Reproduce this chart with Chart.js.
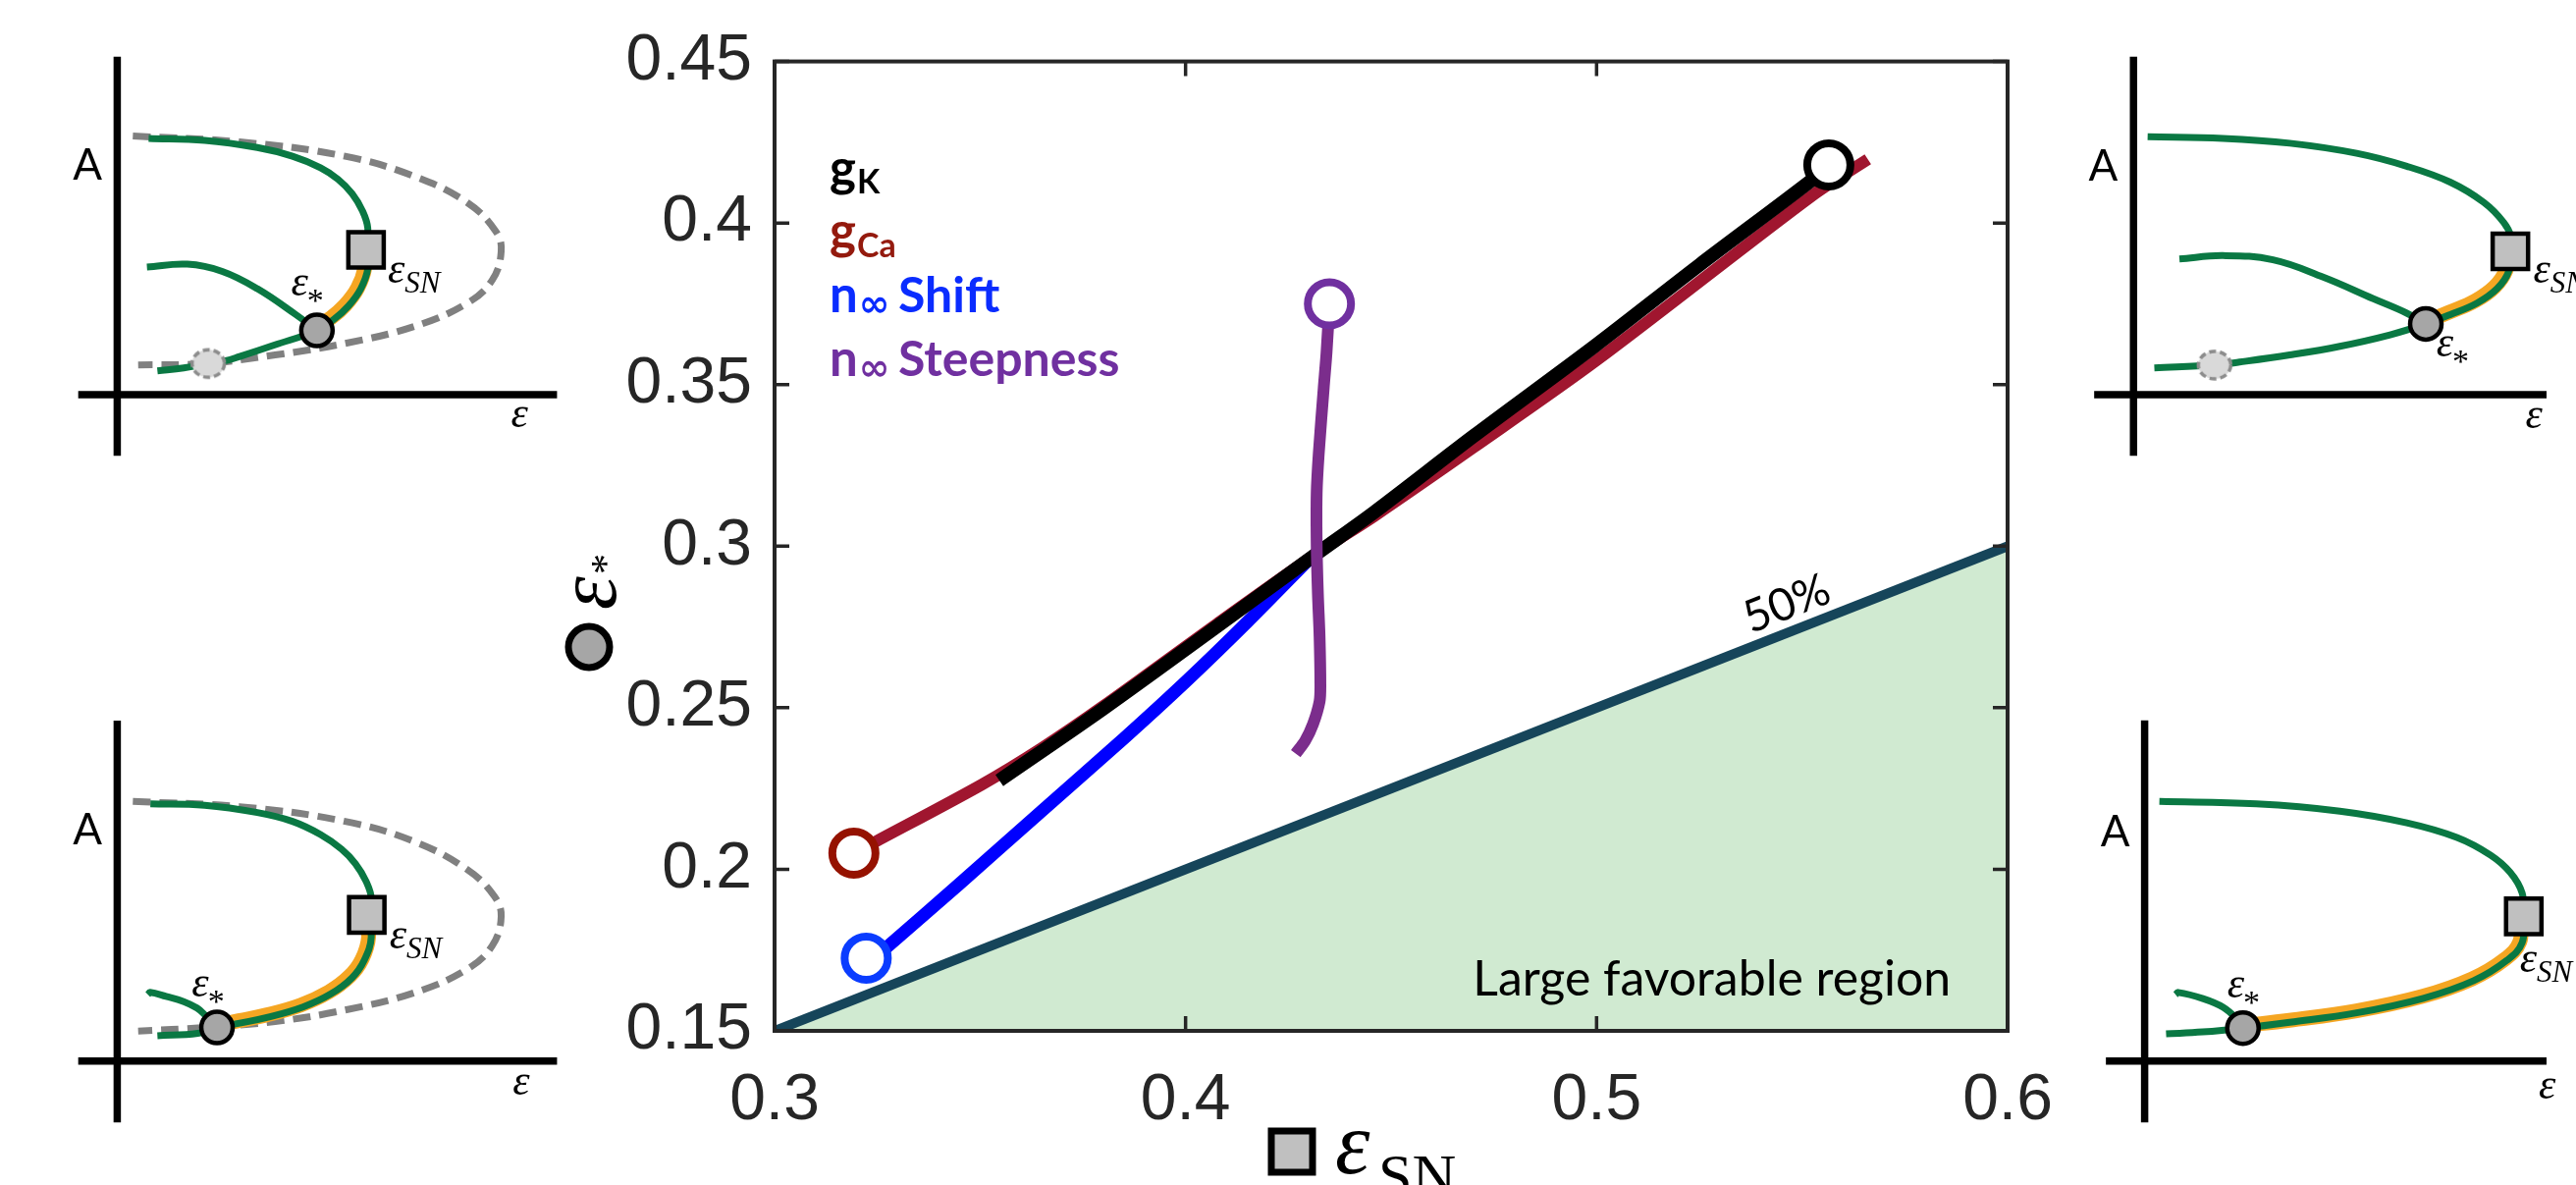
<!DOCTYPE html>
<html>
<head>
<meta charset="utf-8">
<title>epsilon star vs epsilon SN</title>
<script src="https://cdn.jsdelivr.net/npm/chart.js@4.4.1/dist/chart.umd.min.js"></script>
<style>
  html, body { margin:0; padding:0; background:#ffffff; }
  #stage { position:relative; width:2624px; height:1207px; overflow:hidden; background:#fff; }
  #stage canvas { position:absolute; }
</style>
</head>
<body>
<div id="stage">
  <canvas id="mainChart" width="2624" height="1207" style="left:0;top:0;width:2624px;height:1207px"></canvas>
  <canvas id="panelTL" width="620" height="520" style="left:0;top:0;width:620px;height:520px"></canvas>
  <canvas id="panelBL" width="620" height="527" style="left:0;top:680px;width:620px;height:527px"></canvas>
  <canvas id="panelTR" width="594" height="520" style="left:2030px;top:0;width:594px;height:520px"></canvas>
  <canvas id="panelBR" width="594" height="527" style="left:2030px;top:680px;width:594px;height:527px"></canvas>
</div>
<script>
// ================= MAIN CHART DATA =================
const xTickValues = [0.3, 0.4, 0.5, 0.6];
const xTickLabels = ['0.3', '0.4', '0.5', '0.6'];
const yTickValues = [0.15, 0.2, 0.25, 0.3, 0.35, 0.4, 0.45];
const yTickLabels = ['0.15', '0.2', '0.25', '0.3', '0.35', '0.4', '0.45'];

const gK_x = [0.3547, 0.38, 0.4077, 0.4316, 0.4459, 0.47, 0.4992, 0.525, 0.5525, 0.5565];
const gK_y = [0.2275, 0.2497, 0.2752, 0.2974, 0.3105, 0.3340, 0.3616, 0.3870, 0.4134, 0.4180];
const gK_marker = [0.5565, 0.4180];

const gCa_x = [0.3193, 0.3245, 0.3504, 0.365, 0.38, 0.4077, 0.4316, 0.4459, 0.47, 0.50, 0.5525, 0.566];
const gCa_y = [0.205, 0.2085, 0.2262, 0.2375, 0.2505, 0.2760, 0.2975, 0.3093, 0.3305, 0.3575, 0.4085, 0.4197];
const gCa_marker = [0.3193, 0.205];

const shift_x = [0.3223, 0.3277, 0.345, 0.365, 0.385, 0.400, 0.415, 0.4304];
const shift_y = [0.1703, 0.1763, 0.1955, 0.2180, 0.2405, 0.2580, 0.2765, 0.2964];
const shift_marker = [0.3223, 0.1725];

const steep_x = [0.4350, 0.4343, 0.4336, 0.4324, 0.4319, 0.4319, 0.4322, 0.4326, 0.4328, 0.4326, 0.4310, 0.4291, 0.4268];
const steep_y = [0.3750, 0.3600, 0.3488, 0.3286, 0.3165, 0.3000, 0.2850, 0.2721, 0.2570, 0.2519, 0.2449, 0.2398, 0.2358];
const steep_marker = [0.4350, 0.3750];

const half_x = [0.3, 0.6];
const half_y = [0.15, 0.30];

const legendNames = ['g', 'g', 'n', 'n'];
const legendSubs = ['K', 'Ca', '\u221E', '\u221E'];
const legendTails = ['', '', 'Shift', 'Steepness'];
const halfLabel = '50%';
const halfLabelAt = [0.5463, 0.2821];
const regionLabel = 'Large favorable region';
const regionLabelAt = [0.5862, 0.1609];

// ================= SCHEMATIC PANEL DATA =================
// Top-left panel
const tlAxisH_x = [-0.44, 4.96], tlAxisH_y = [0, 0];
const tlAxisV_x = [0, 0], tlAxisV_y = [3.89, -0.705];
const tlDash_x = [0.176, 1.38, 2.57, 3.36, 3.95, 4.27, 4.33, 4.23, 3.95, 3.36, 2.57, 1.78, 0.987, 0.236];
const tlDash_y = [2.978, 2.91, 2.745, 2.51, 2.21, 1.88, 1.65, 1.32, 1.055, 0.789, 0.59, 0.457, 0.358, 0.341];
const tlUpper_x = [0.354, 0.987, 1.58, 1.976, 2.292, 2.49, 2.648, 2.766, 2.826, 2.806];
const tlUpper_y = [2.951, 2.928, 2.845, 2.746, 2.613, 2.48, 2.315, 2.115, 1.916, 1.668];
const tlLower_x = [2.806, 2.826, 2.747, 2.608, 2.45, 2.252, 1.778, 1.382, 1.224, 1.027, 0.75, 0.453];
const tlLower_y = [1.668, 1.452, 1.22, 1.021, 0.872, 0.739, 0.573, 0.44, 0.391, 0.358, 0.308, 0.275];
const tlMiddle_x = [0.335, 0.79, 1.185, 1.58, 2.015, 2.252];
const tlMiddle_y = [1.469, 1.502, 1.419, 1.22, 0.921, 0.739];
const tlOrange_x = [2.78, 2.79, 2.71, 2.57, 2.41, 2.22];
const tlOrange_y = [1.62, 1.45, 1.225, 1.03, 0.885, 0.765];
const tlSN = [2.806, 1.668], tlStar = [2.252, 0.739], tlGhost = [1.027, 0.358];

// Bottom-left panel
const blAxisH_x = [-0.44, 4.96], blAxisH_y = [0, 0];
const blAxisV_x = [0, 0], blAxisV_y = [3.915, -0.705];
const blDash_x = [0.176, 1.38, 2.57, 3.36, 3.95, 4.25, 4.33, 4.23, 3.95, 3.36, 2.57, 1.78, 0.987, 0.236];
const blDash_y = [2.985, 2.925, 2.756, 2.52, 2.20, 1.90, 1.665, 1.328, 1.059, 0.79, 0.588, 0.455, 0.387, 0.346];
const blUpper_x = [0.374, 0.987, 1.58, 1.976, 2.292, 2.529, 2.687, 2.806, 2.865, 2.814];
const blUpper_y = [2.958, 2.941, 2.857, 2.756, 2.605, 2.437, 2.269, 2.067, 1.866, 1.681];
const blLower_x = [2.814, 2.865, 2.786, 2.648, 2.41, 2.094, 1.699, 1.382, 1.125, 0.908, 0.453];
const blLower_y = [1.681, 1.429, 1.16, 0.958, 0.773, 0.622, 0.504, 0.437, 0.387, 0.319, 0.293];
const blMiddle_x = [0.345, 0.37, 0.55, 0.75, 0.90, 0.99, 1.125];
const blMiddle_y = [0.765, 0.79, 0.745, 0.685, 0.61, 0.53, 0.387];
const blOrange_x = [2.79, 2.835, 2.76, 2.62, 2.385, 2.07, 1.68, 1.37, 1.14];
const blOrange_y = [1.63, 1.43, 1.17, 0.975, 0.795, 0.645, 0.53, 0.465, 0.415];
const blSN = [2.814, 1.681], blStar = [1.125, 0.387];

// Top-right panel
const trAxisH_x = [-0.446, 4.8], trAxisH_y = [0, 0];
const trAxisV_x = [0, 0], trAxisV_y = [3.89, -0.705];
const trUpper_x = [0.16, 1.013, 1.77, 2.528, 3.096, 3.588, 3.967, 4.195, 4.278, 4.27];
const trUpper_y = [2.971, 2.951, 2.895, 2.779, 2.63, 2.447, 2.215, 1.983, 1.817, 1.651];
const trLower_x = [4.27, 4.251, 4.119, 3.892, 3.588, 3.312, 2.907, 2.338, 1.77, 1.202, 0.918, 0.236];
const trLower_y = [1.651, 1.419, 1.22, 1.054, 0.921, 0.815, 0.689, 0.557, 0.457, 0.375, 0.341, 0.308];
const trMiddle_x = [0.52, 1.013, 1.58, 2.149, 2.717, 3.096, 3.312];
const trMiddle_y = [1.562, 1.601, 1.552, 1.353, 1.104, 0.938, 0.815];
const trOrange_x = [4.24, 4.22, 4.09, 3.87, 3.58, 3.34];
const trOrange_y = [1.62, 1.43, 1.24, 1.08, 0.95, 0.85];
const trSN = [4.27, 1.651], trStar = [3.312, 0.815], trGhost = [0.918, 0.341];

// Bottom-right panel
const brAxisH_x = [-0.439, 4.7], brAxisH_y = [0, 0];
const brAxisV_x = [0, 0], brAxisV_y = [3.916, -0.705];
const brUpper_x = [0.167, 1.266, 2.212, 2.97, 3.538, 3.917, 4.144, 4.277, 4.296];
const brUpper_y = [2.985, 2.958, 2.874, 2.74, 2.572, 2.37, 2.168, 1.933, 1.664];
const brLower_x = [4.296, 4.277, 4.106, 3.728, 3.159, 2.402, 1.644, 1.114, 0.659, 0.243];
const brLower_y = [1.664, 1.361, 1.16, 0.925, 0.723, 0.555, 0.447, 0.38, 0.336, 0.313];
const brMiddle_x = [0.35, 0.38, 0.66, 0.89, 1.04, 1.114];
const brMiddle_y = [0.765, 0.79, 0.72, 0.62, 0.49, 0.38];
const brOrange_x = [4.26, 4.25, 4.08, 3.71, 3.15, 2.40, 1.64, 1.13];
const brOrange_y = [1.63, 1.37, 1.17, 0.945, 0.745, 0.578, 0.47, 0.41];
const brSN = [4.296, 1.664], brStar = [1.114, 0.38];

// ================= HELPERS =================
const P = (xs, ys) => xs.map((x, i) => ({ x: x, y: ys[i] }));
const pt = (a) => [{ x: a[0], y: a[1] }];

const SANS = '"Liberation Sans", Arial, Helvetica, sans-serif';
const CAL = 'Lato, "Open Sans", sans-serif';
const SERIF = '"Liberation Serif", "DejaVu Serif", serif';

// ================= MAIN CHART =================
const frameTicks = {
  id: 'frameTicks',
  afterDraw(chart) {
    const { ctx, chartArea: a, scales: { x, y } } = chart;
    ctx.save();
    ctx.strokeStyle = '#262626';
    ctx.lineWidth = 4;
    ctx.strokeRect(a.left, a.top, a.right - a.left, a.bottom - a.top);
    ctx.lineWidth = 3.5;
    const TL = 15;
    ctx.beginPath();
    x.ticks.forEach(t => {
      const px = x.getPixelForValue(t.value);
      ctx.moveTo(px, a.bottom); ctx.lineTo(px, a.bottom - TL);
      ctx.moveTo(px, a.top); ctx.lineTo(px, a.top + TL);
    });
    y.ticks.forEach(t => {
      const py = y.getPixelForValue(t.value);
      ctx.moveTo(a.left, py); ctx.lineTo(a.left + TL, py);
      ctx.moveTo(a.right, py); ctx.lineTo(a.right - TL, py);
    });
    ctx.stroke();
    ctx.restore();
  }
};

const annotations = {
  id: 'annotations',
  afterDatasetsDraw(chart) {
    const { ctx, scales: { x, y } } = chart;
    ctx.save();
    // "Large favorable region"
    ctx.fillStyle = '#000';
    let fs = 48;
    ctx.font = fs + 'px ' + CAL;
    const w = ctx.measureText(regionLabel).width;
    fs = fs * 487 / w;
    ctx.font = fs + 'px ' + CAL;
    ctx.textAlign = 'right';
    ctx.textBaseline = 'alphabetic';
    ctx.fillText(regionLabel, x.getPixelForValue(regionLabelAt[0]), y.getPixelForValue(regionLabelAt[1]));

    // "50%" along the 50% line
    const p1x = x.getPixelForValue(half_x[0]), p1y = y.getPixelForValue(half_y[0]);
    const p2x = x.getPixelForValue(half_x[1]), p2y = y.getPixelForValue(half_y[1]);
    const ang = Math.atan2(p2y - p1y, p2x - p1x);
    ctx.save();
    ctx.translate(x.getPixelForValue(halfLabelAt[0]), y.getPixelForValue(halfLabelAt[1]));
    ctx.rotate(ang);
    ctx.font = '46px ' + CAL;
    ctx.textAlign = 'center';
    ctx.textBaseline = 'middle';
    ctx.fillText(halfLabel, 0, 0);
    ctx.restore();

    // Legend (text only, coloured)
    const legColors = ['#000000', '#941a0e', '#0a2cff', '#7030a0'];
    const legBase = [189, 253, 318, 383];
    const subDy = [8, 9, 4, 4];
    ctx.textAlign = 'left';
    ctx.textBaseline = 'alphabetic';
    for (let i = 0; i < legendNames.length; i++) {
      ctx.fillStyle = legColors[i];
      let cx = 845;
      ctx.font = 'bold 51px ' + CAL;
      ctx.fillText(legendNames[i], cx, legBase[i]);
      cx += ctx.measureText(legendNames[i]).width + 1;
      ctx.font = i < 2 ? ('bold 34px ' + CAL) : ('bold 38px "DejaVu Sans", sans-serif');
      ctx.fillText(legendSubs[i], cx, legBase[i] + subDy[i]);
      if (legendTails[i]) {
        ctx.font = 'bold 50px ' + CAL;
        ctx.fillText(legendTails[i], 915, legBase[i]);
      }
    }

    // Y axis title: grey circle + rotated epsilon_*
    ctx.fillStyle = '#a6a6a6';
    ctx.strokeStyle = '#000';
    ctx.lineWidth = 7;
    ctx.beginPath(); ctx.arc(600, 659, 21, 0, Math.PI * 2); ctx.fill(); ctx.stroke();
    ctx.save();
    ctx.translate(627, 621);
    ctx.rotate(-Math.PI / 2);
    ctx.fillStyle = '#000';
    ctx.font = 'italic 86px ' + SERIF;
    ctx.textAlign = 'left';
    ctx.fillText('\u03B5', 0, 0);
    const ew = ctx.measureText('\u03B5').width;
    ctx.font = '42px ' + SERIF;
    ctx.fillText('*', ew + 2, 4);
    ctx.restore();

    // X axis title: grey square + epsilon_SN
    ctx.fillStyle = '#c0c0c0';
    ctx.fillRect(1295, 1152, 42, 42);
    ctx.lineWidth = 7;
    ctx.strokeStyle = '#000';
    ctx.strokeRect(1295, 1152, 42, 42);
    ctx.fillStyle = '#000';
    ctx.font = 'italic 90px ' + SERIF;
    ctx.fillText('\u03B5', 1360, 1195);
    ctx.font = '62px ' + SERIF;
    ctx.fillText('SN', 1404, 1218);
    ctx.restore();
  }
};

const markerDs = (arr, color, order) => ({
  data: pt(arr), showLine: false, pointRadius: 22, pointHoverRadius: 22,
  pointBorderWidth: 8, pointBackgroundColor: '#ffffff', pointBorderColor: color, order: order
});
const lineDs = (xs, ys, color, width, order, tension) => ({
  data: P(xs, ys), borderColor: color, borderWidth: width, pointRadius: 0,
  tension: tension, borderCapStyle: 'butt', fill: false, order: order
});

new Chart(document.getElementById('mainChart'), {
  type: 'line',
  data: {
    datasets: [
      markerDs(steep_marker, '#7030a0', 1),
      markerDs(gK_marker, '#000000', 2),
      markerDs(shift_marker, '#0a3cff', 3),
      markerDs(gCa_marker, '#951200', 3),
      lineDs(steep_x, steep_y, '#7b2d8c', 12, 4, 0.3),
      lineDs(gK_x, gK_y, '#000000', 14, 5, 0.3),
      lineDs(gCa_x, gCa_y, '#a0162f', 12, 6, 0.3),
      lineDs(shift_x, shift_y, '#0000ff', 13, 7, 0.3),
      lineDs(half_x, half_y, '#16455a', 10, 9, 0),
      { data: P(half_x, half_y), borderColor: '#000', borderWidth: 2, pointRadius: 0,
        fill: 'start', backgroundColor: '#d0ead1', order: 10 }
    ]
  },
  options: {
    responsive: false,
    animation: false,
    devicePixelRatio: 1,
    layout: { padding: { left: 600, top: 59, right: 579, bottom: 57 } },
    plugins: { legend: { display: false }, tooltip: { enabled: false } },
    scales: {
      x: {
        type: 'linear', min: 0.3, max: 0.6,
        afterBuildTicks: (s) => { s.ticks = xTickValues.map(v => ({ value: v })); },
        afterFit: (s) => { s.height = 100; },
        grid: { display: false, drawTicks: false },
        border: { display: false },
        ticks: {
          autoSkip: false, maxRotation: 0, padding: 32, color: '#262626',
          font: { family: SANS, size: 66 },
          callback: (v) => xTickLabels[xTickValues.indexOf(v)]
        }
      },
      y: {
        type: 'linear', min: 0.15, max: 0.45,
        afterBuildTicks: (s) => { s.ticks = yTickValues.map(v => ({ value: v })); },
        afterFit: (s) => { s.width = 189; },
        grid: { display: false, drawTicks: false },
        border: { display: false },
        ticks: {
          autoSkip: false, padding: 23, color: '#262626',
          font: { family: SANS, size: 66 },
          callback: (v) => yTickLabels[yTickValues.indexOf(v)]
        }
      }
    }
  },
  plugins: [annotations, frameTicks]
});

// ================= SCHEMATIC PANELS =================
const ghostImg = document.createElement('canvas');
ghostImg.width = 40; ghostImg.height = 34;
(function () {
  const g = ghostImg.getContext('2d');
  g.beginPath();
  g.ellipse(20, 17, 16.5, 14, 0, 0, Math.PI * 2);
  g.fillStyle = '#d9d9d9'; g.fill();
  g.setLineDash([7, 4]); g.lineWidth = 3.5; g.strokeStyle = '#8c8c8c'; g.stroke();
})();

const GREEN = '#0a7843', ORANGE = '#f5a623', GREY = '#808080';

function panelTextPlugin(items) {
  return {
    id: 'panelText',
    afterDatasetsDraw(chart) {
      const { ctx, scales: { x, y } } = chart;
      ctx.save();
      ctx.fillStyle = '#000';
      ctx.textAlign = 'left';
      ctx.textBaseline = 'alphabetic';
      items.forEach(it => {
        const px = x.getPixelForValue(it.x), py = y.getPixelForValue(it.y);
        ctx.font = it.font;
        ctx.fillText(it.text, px, py);
        if (it.sub) {
          const w = ctx.measureText(it.text).width;
          ctx.font = it.subFont;
          ctx.fillText(it.sub, px + w + (it.subDx || 0), py + (it.subDy || 0));
        }
      });
      ctx.restore();
    }
  };
}

const F_A = '44px ' + CAL;
const F_E = 'italic 44px ' + SERIF;
const F_SN = 'italic 31px ' + SERIF;
const F_ST = '34px ' + SERIF;

function makePanel(id, range, d, labels) {
  const ds = [];
  ds.push({ data: pt(d.sn), showLine: false, pointStyle: 'rect', pointRadius: 25.5, pointBorderWidth: 4.5,
            pointBackgroundColor: '#c0c0c0', pointBorderColor: '#000', order: 1 });
  ds.push({ data: pt(d.star), showLine: false, pointStyle: 'circle', pointRadius: 16, pointBorderWidth: 4.5,
            pointBackgroundColor: '#a6a6a6', pointBorderColor: '#000', order: 1 });
  if (d.ghost) ds.push({ data: pt(d.ghost), showLine: false, pointStyle: ghostImg, pointRadius: 17, order: 2 });
  const curve = (xs, ys, color, width, order, dash) => ({
    data: P(xs, ys), showLine: true, borderColor: color, borderWidth: width, pointRadius: 0,
    tension: 0.4, borderCapStyle: 'butt', borderDash: dash || [], order: order
  });
  ds.push(curve(d.upper[0], d.upper[1], GREEN, 7, 3));
  ds.push(curve(d.lower[0], d.lower[1], GREEN, 7, 3));
  ds.push(curve(d.middle[0], d.middle[1], GREEN, 7, 3));
  ds.push(curve(d.orange[0], d.orange[1], ORANGE, 15, 4));
  if (d.dash) ds.push(curve(d.dash[0], d.dash[1], GREY, 7, 5, [18, 9]));
  ds.push({ data: P(d.axH[0], d.axH[1]), showLine: true, borderColor: '#000', borderWidth: 7.5, pointRadius: 0, tension: 0, order: 6 });
  ds.push({ data: P(d.axV[0], d.axV[1]), showLine: true, borderColor: '#000', borderWidth: 7.5, pointRadius: 0, tension: 0, order: 6 });

  const items = [
    { x: labels.A[0], y: labels.A[1], text: 'A', font: F_A },
    { x: labels.E[0], y: labels.E[1], text: '\u03B5', font: F_E },
    { x: labels.star[0], y: labels.star[1], text: '\u03B5', font: F_E, sub: '*', subFont: F_ST, subDy: 16, subDx: -1 },
    { x: labels.sn[0], y: labels.sn[1], text: '\u03B5', font: F_E, sub: 'SN', subFont: F_SN, subDy: 10, subDx: 0 }
  ];

  new Chart(document.getElementById(id), {
    type: 'scatter',
    data: { datasets: ds },
    options: {
      responsive: false, animation: false, devicePixelRatio: 1,
      layout: { padding: 0 },
      plugins: { legend: { display: false }, tooltip: { enabled: false } },
      scales: {
        x: { type: 'linear', display: false, min: range[0], max: range[1] },
        y: { type: 'linear', display: false, min: range[2], max: range[3] }
      }
    },
    plugins: [panelTextPlugin(items)]
  });
}

makePanel('panelTL', [-0.99, 5.21, -0.995, 4.205], {
  axH: [tlAxisH_x, tlAxisH_y], axV: [tlAxisV_x, tlAxisV_y],
  dash: [tlDash_x, tlDash_y], upper: [tlUpper_x, tlUpper_y], lower: [tlLower_x, tlLower_y],
  middle: [tlMiddle_x, tlMiddle_y], orange: [tlOrange_x, tlOrange_y],
  sn: tlSN, star: tlStar, ghost: tlGhost
}, { A: [-0.50, 2.48], E: [4.44, -0.372], star: [1.96, 1.14], sn: [3.05, 1.286] });

makePanel('panelBL', [-0.99, 5.21, -1.085, 4.185], {
  axH: [blAxisH_x, blAxisH_y], axV: [blAxisV_x, blAxisV_y],
  dash: [blDash_x, blDash_y], upper: [blUpper_x, blUpper_y], lower: [blLower_x, blLower_y],
  middle: [blMiddle_x, blMiddle_y], orange: [blOrange_x, blOrange_y],
  sn: blSN, star: blStar
}, { A: [-0.50, 2.488], E: [4.46, -0.385], star: [0.84, 0.745], sn: [3.07, 1.295] });

makePanel('panelTR', [-1.26, 4.68, -0.995, 4.205], {
  axH: [trAxisH_x, trAxisH_y], axV: [trAxisV_x, trAxisV_y],
  upper: [trUpper_x, trUpper_y], lower: [trLower_x, trLower_y],
  middle: [trMiddle_x, trMiddle_y], orange: [trOrange_x, trOrange_y],
  sn: trSN, star: trStar, ghost: trGhost
}, { A: [-0.51, 2.465], E: [4.44, -0.389], star: [3.43, 0.445], sn: [4.53, 1.285] });

makePanel('panelBR', [-1.386, 4.554, -1.085, 4.185], {
  axH: [brAxisH_x, brAxisH_y], axV: [brAxisV_x, brAxisV_y],
  upper: [brUpper_x, brUpper_y], lower: [brLower_x, brLower_y],
  middle: [brMiddle_x, brMiddle_y], orange: [brOrange_x, brOrange_y],
  sn: brSN, star: brStar
}, { A: [-0.50, 2.471], E: [4.466, -0.43], star: [0.935, 0.727], sn: [4.25, 1.025] });
</script>
</body>
</html>
